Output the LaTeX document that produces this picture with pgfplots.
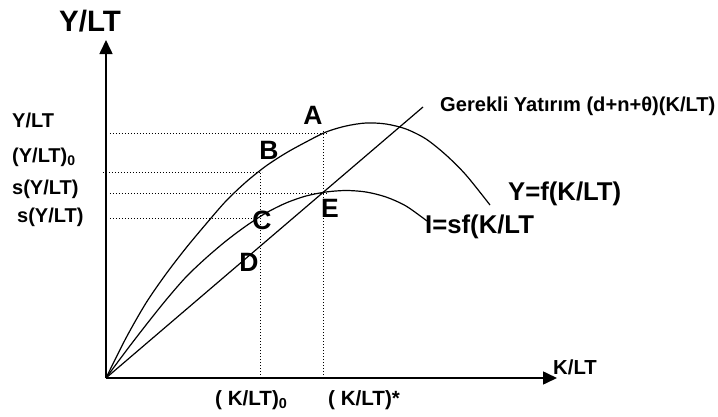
\documentclass[border=0pt]{standalone}
\usepackage{fontspec}
\setmainfont{Liberation Sans}
\usepackage{pgfplots}
\pgfplotsset{compat=1.18}
\usetikzlibrary{arrows.meta}
\newcommand{\fs}[1]{\fontsize{#1}{#1}\selectfont\bfseries}
\begin{document}
\begin{tikzpicture}
\begin{axis}[
  scale only axis, width=451pt, height=338pt,
  xmin=0, xmax=451, ymin=0, ymax=338,
  axis lines=left,
  axis line style={line width=1.6pt, -{Triangle[length=14pt,width=13pt]}},
  xtick=\empty, ytick=\empty, clip=false,
]
% production function Y=f(K/LT)
\addplot[black, line width=1.2pt, smooth, tension=0.5] coordinates {
(0,0) (20,40) (40,75) (60,104) (80,130) (100,154) (120,177) (140,196)
(160,212) (180,225) (200,236) (220,246) (240,252) (260,255) (280,254)
(300,249) (320,239) (340,223) (360,203) (384,173)};
% saving I=sf(K/LT)
\addplot[black, line width=1.2pt, smooth, tension=0.5] coordinates {
(0,0) (20,27) (40,53) (60,78) (80,101) (100,120) (120,137) (140,152)
(160,165) (180,175) (200,182) (220,186) (240,187.5) (260,186) (280,181)
(300,172) (321,157)};
% required investment line
\addplot[black, line width=1.2pt] coordinates {(0,0) (317,271)};
% dotted guides
\addplot[black, line width=0.9pt, dash pattern=on 1pt off 2pt] coordinates {(4,245) (222,245)};
\addplot[black, line width=0.9pt, dash pattern=on 1pt off 2pt] coordinates {(-3,206) (156,206)};
\addplot[black, line width=0.9pt, dash pattern=on 1pt off 2pt] coordinates {(4,185) (222,185)};
\addplot[black, line width=0.9pt, dash pattern=on 1pt off 2pt] coordinates {(4,160) (155,160)};
\addplot[black, line width=0.9pt, dash pattern=on 1pt off 2pt] coordinates {(154,0) (154,207)};
\addplot[black, line width=0.9pt, dash pattern=on 1pt off 2pt] coordinates {(217,0) (217,248)};
% labels
\node[inner sep=0] at (axis cs:-16,357) {\fs{29.5}Y/LT};
\node[inner sep=0, anchor=west] at (axis cs:-94,258) {\fs{20}Y/LT};
\node[inner sep=0, anchor=west] at (axis cs:-94,221) {\fs{20}(Y/LT)\textsubscript{0}};
\node[inner sep=0, anchor=west] at (axis cs:-94,189) {\fs{20}s(Y/LT)};
\node[inner sep=0, anchor=west] at (axis cs:-89,161) {\fs{20}s(Y/LT)};
\node[inner sep=0] at (axis cs:207,263) {\fs{26.5}A};
\node[inner sep=0] at (axis cs:163,228) {\fs{26.5}B};
\node[inner sep=0] at (axis cs:156,158) {\fs{26.5}C};
\node[inner sep=0] at (axis cs:143,116) {\fs{26.5}D};
\node[inner sep=0] at (axis cs:224,170) {\fs{26.5}E};
\node[inner sep=0, anchor=west] at (axis cs:334,272) {\fs{20.1}Gerekli Yatırım (d+n+θ)(K/LT)};
\node[inner sep=0, anchor=west] at (axis cs:402,184) {\fs{25.7}Y=f(K/LT)};
\node[inner sep=0, anchor=west] at (axis cs:319,151) {\fs{25.7}I=sf(K/LT};
\node[inner sep=0, anchor=west] at (axis cs:447,11) {\fs{20.3}K/LT};
\node[inner sep=0, anchor=west] at (axis cs:109,-22) {\fs{20.6}( K/LT)\textsubscript{0}};
\node[inner sep=0, anchor=west] at (axis cs:222,-22) {\fs{20.6}( K/LT)*};
\path (axis cs:-106,-38) rectangle (axis cs:612,378);
\end{axis}
\end{tikzpicture}
\end{document}
